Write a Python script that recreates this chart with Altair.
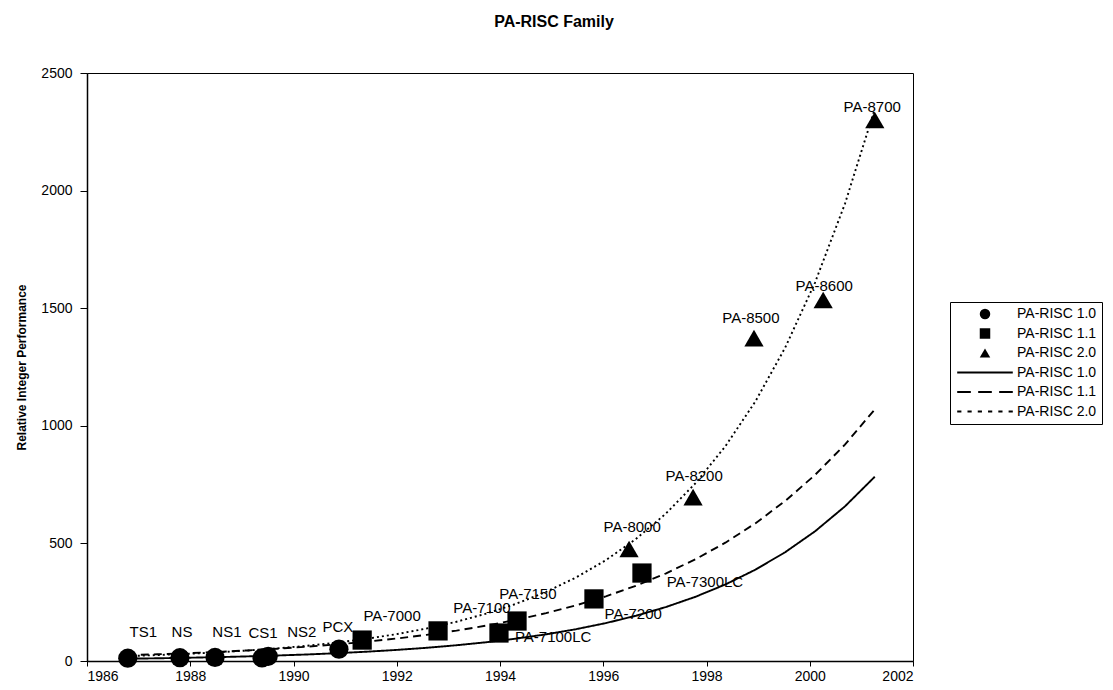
import altair as alt
import pandas as pd

FONT = "Liberation Sans"

# ---- data ----
# PA-RISC 1.0 (circles)
r10_names = ["TS1", "NS", "NS1", "CS1", "NS2", "PCX"]
r10_years = [1986.79, 1987.80, 1988.48, 1989.39, 1989.51, 1990.88]
r10_perf = [12, 14, 15, 13, 20, 50]
r10_label_year = [1987.09, 1987.84, 1988.71, 1989.41, 1990.16, 1990.86]
r10_label_perf = [123, 123, 123, 119, 123, 145]

# PA-RISC 1.1 (squares)
r11_names = ["PA-7000", "PA-7100", "PA-7100LC", "PA-7150", "PA-7200", "PA-7300LC"]
r11_years = [1991.33, 1992.80, 1993.98, 1994.33, 1995.82, 1996.75]
r11_perf = [89, 128, 119, 170, 264, 374]
r11_label_year = [1991.91, 1993.65, 1995.03, 1994.54, 1996.58, 1997.97]
r11_label_perf = [191, 225, 102, 285, 200, 336]

# PA-RISC 2.0 (triangles)
r20_names = ["PA-8000", "PA-8200", "PA-8500", "PA-8600", "PA-8700"]
r20_years = [1996.50, 1997.74, 1998.92, 2000.26, 2001.26]
r20_perf = [476, 697, 1373, 1535, 2300]
r20_label_year = [1996.56, 1997.76, 1998.86, 2000.28, 2001.21]
r20_label_perf = [570, 787, 1458, 1594, 2355]

families = ["PA-RISC 1.0", "PA-RISC 1.1", "PA-RISC 2.0"]
trend_extent = [1986.79, 2001.26]
x_ticks = [1986, 1988, 1990, 1992, 1994, 1996, 1998, 2000, 2002]
y_ticks = [0, 500, 1000, 1500, 2000, 2500]

rows = []
for fam, names, yrs, perf, lx, ly in [
    (families[0], r10_names, r10_years, r10_perf, r10_label_year, r10_label_perf),
    (families[1], r11_names, r11_years, r11_perf, r11_label_year, r11_label_perf),
    (families[2], r20_names, r20_years, r20_perf, r20_label_year, r20_label_perf),
]:
    for n, a, b, c, d in zip(names, yrs, perf, lx, ly):
        rows.append({"family": fam, "name": n, "year": a, "perf": b, "lab_year": c, "lab_perf": d})
df = pd.DataFrame(rows)

# legend symbols: markers, then line samples drawn as filled dash paths
SEG = "h{w}v0.36h-{w}z"
solid_sym = "M-5.3,-0.18" + SEG.format(w=10.6)
dashed_sym = "M-5.3,-0.18" + SEG.format(w=2.6) + ("m4,0" + SEG.format(w=2.6)) * 2
dotted_sym = "M-5.3,-0.18" + SEG.format(w=0.8) + ("m1.96,0" + SEG.format(w=0.8)) * 5

legend_keys = families + [f + " trend" for f in families]
shape_range = ["circle", "square", "triangle-up", solid_sym, dashed_sym, dotted_sym]
dash_keys = [f + " trend" for f in families]
dash_range = [[1, 0], [8, 5], [2, 3]]

x_scale = alt.Scale(domain=[1986, 2002], nice=False, zero=False)
y_scale = alt.Scale(domain=[0, 2500], nice=False)
shape_scale = alt.Scale(domain=legend_keys, range=shape_range)
dash_scale = alt.Scale(domain=dash_keys, range=dash_range)

x_axis = alt.Axis(values=x_ticks, format="d", title=None, grid=False)
y_axis = alt.Axis(values=y_ticks, format="d", title="Relative Integer Performance", grid=False)

leg = alt.Legend(
    title=None, orient="none", legendX=863, legendY=229,
    symbolSize=110, labelExpr="replace(datum.label, ' trend', '')",
    symbolFillColor="black", symbolStrokeColor="black", symbolStrokeWidth=0.5,
    symbolOpacity=1,
)

base = alt.Chart(df)

lines = (
    base.transform_calculate(lp="log(datum.perf)")
    .transform_regression("year", "lp", method="poly", order=1,
                          extent=trend_extent, groupby=["family"])
    .transform_calculate(perf="exp(datum.lp)", family="datum.family + ' trend'")
    .mark_line(color="black", strokeWidth=1.9)
    .encode(
        x=alt.X("year:Q", scale=x_scale, axis=x_axis),
        y=alt.Y("perf:Q", scale=y_scale, axis=y_axis),
        strokeDash=alt.StrokeDash("family:N", scale=dash_scale, legend=None),
    )
)

points = base.mark_point(
    filled=True, color="black", opacity=1, size=370
).encode(
    x=alt.X("year:Q", scale=x_scale, axis=x_axis),
    y=alt.Y("perf:Q", scale=y_scale, axis=y_axis),
    shape=alt.Shape("family:N", scale=shape_scale, legend=leg),
)

labels = base.mark_text(font=FONT, fontSize=15, color="black", align="center", baseline="middle").encode(
    x=alt.X("lab_year:Q", scale=x_scale, axis=x_axis),
    y=alt.Y("lab_perf:Q", scale=y_scale, axis=y_axis),
    text="name:N",
)

chart = (
    alt.layer(lines, points, labels)
    .properties(
        width=826, height=588,
        title=alt.TitleParams("PA-RISC Family", font=FONT, fontSize=16, fontWeight="bold",
                              anchor="middle", dx=54, offset=36, color="black"),
        autosize=alt.AutoSizeParams(type="none"),
        padding={"left": 79, "top": 65, "right": 192, "bottom": 21},
    )
    .configure_view(stroke="black", strokeWidth=1)
    .configure_axis(domainColor="black", domainWidth=1.5, tickColor="black", labelColor="black",
                    titleColor="black", labelFont=FONT, titleFont=FONT, labelFontSize=14)
    .configure_axisY(tickSize=7, labelPadding=8, titleFontSize=12, titleFontWeight="bold", titlePadding=12)
    .configure_axisX(tickSize=5, labelPadding=3)
    .configure_legend(strokeColor="black", fillColor="white", padding=5, symbolOffset=23,
                      labelOffset=25, rowPadding=5.5, labelFont=FONT, labelFontSize=14,
                      labelColor="black")
)

chart.save("out.html", embed_options={"renderer": "svg", "actions": False})
